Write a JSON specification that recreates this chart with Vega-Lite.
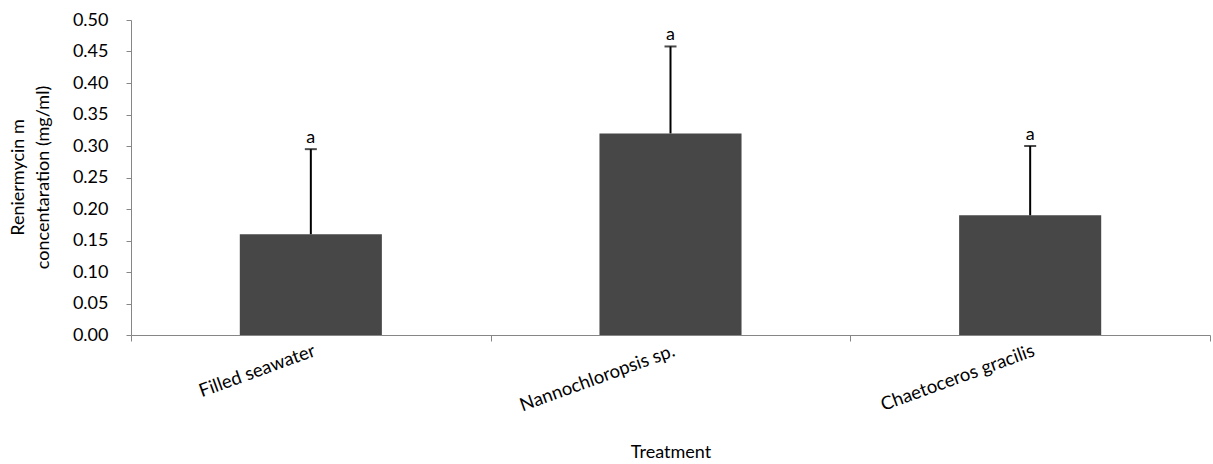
{
  "$schema": "https://vega.github.io/schema/vega-lite/v6.json",
  "autosize": {"type": "none"},
  "width": 1079,
  "height": 315,
  "padding": {"left": 131, "top": 20, "right": 3, "bottom": 129},
  "background": "white",
  "config": {
    "view": {"stroke": null},
    "font": "Lato",
    "axis": {"labelFont": "Lato", "titleFont": "Lato", "labelColor": "#000", "titleColor": "#000", "titleFontWeight": "normal", "labelFontSize": 18, "titleFontSize": 18, "domainColor": "#868686", "tickColor": "#868686", "grid": false}
  },
  "data": {
    "values": [
      {"treatment": "Filled seawater", "mean": 0.16, "upper": 0.295, "letter": "a"},
      {"treatment": "Nannochloropsis sp.", "mean": 0.32, "upper": 0.458, "letter": "a"},
      {"treatment": "Chaetoceros gracilis", "mean": 0.19, "upper": 0.30, "letter": "a"}
    ]
  },
  "encoding": {
    "x": {
      "field": "treatment", "type": "nominal", "sort": null,
      "scale": {"paddingInner": 0, "paddingOuter": 0},
      "axis": {"title": "Treatment", "labelAngle": -20, "labelFontSize": 18.5, "tickBand": "extent", "tickSize": 6, "labelPadding": 0, "titleY": 117, "titleBaseline": "middle"}
    }
  },
  "layer": [
    {
      "mark": {"type": "bar", "width": {"band": 0.395}, "color": "#474747"},
      "encoding": {
        "y": {
          "field": "mean", "type": "quantitative",
          "scale": {"domain": [0, 0.5], "nice": false, "zero": true},
          "axis": {"title": ["Reniermycin m", "concentaration (mg/ml)"], "tickCount": 10, "tickMinStep": 0.05, "format": ".2f", "labelOverlap": false, "tickSize": 5, "labelPadding": 18, "titleX": -113, "titleY": 157, "titleAngle": -90, "titleAlign": "center", "titleBaseline": "middle", "titleLineHeight": 25}
        }
      }
    },
    {
      "mark": {"type": "rule", "color": "#000", "strokeWidth": 2},
      "encoding": {"y": {"field": "mean", "type": "quantitative"}, "y2": {"field": "upper"}}
    },
    {
      "mark": {"type": "tick", "color": "#000", "size": 12, "thickness": 2},
      "encoding": {"y": {"field": "upper", "type": "quantitative"}}
    },
    {
      "mark": {"type": "text", "font": "Lato", "fontSize": 18, "baseline": "bottom", "dy": -2, "color": "#000"},
      "encoding": {"y": {"field": "upper", "type": "quantitative"}, "text": {"field": "letter"}}
    }
  ]
}
